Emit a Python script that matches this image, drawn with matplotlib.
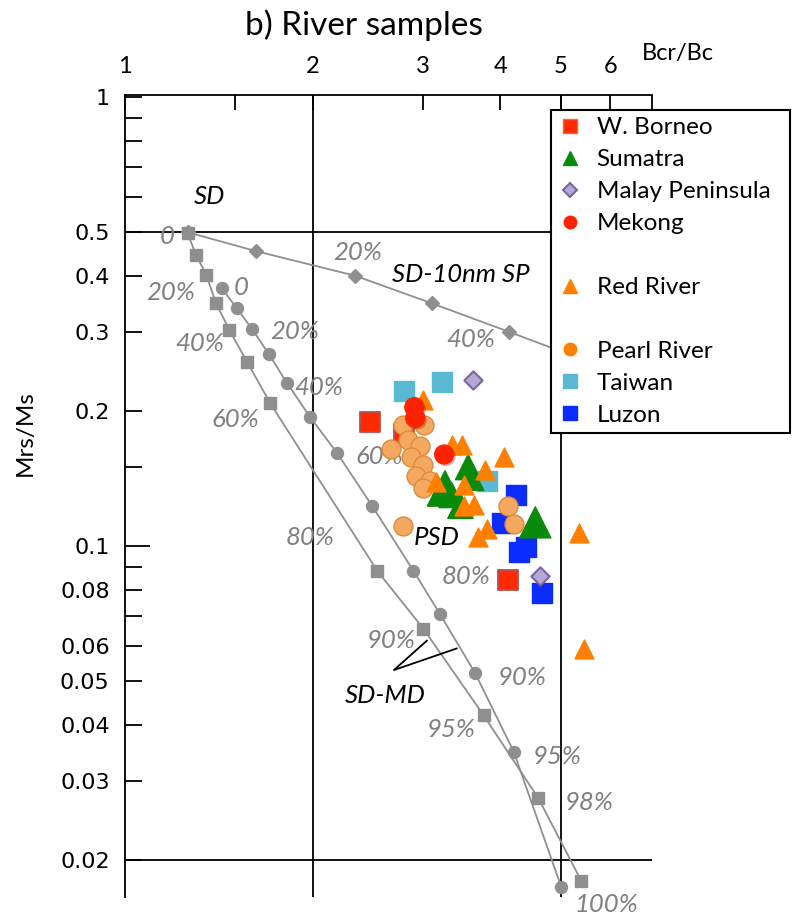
import matplotlib.pyplot as plt
import matplotlib.patheffects as pe
from matplotlib.lines import Line2D
from matplotlib.ticker import NullLocator

plt.rcParams['font.family'] = ['Lato', 'DejaVu Sans']

# Reference mixing curves (Bcr/Bc, Mrs/Ms)
sp_bcr = [1.26, 1.62, 2.34, 3.11, 4.13, 6.0]
sp_mrs = [0.50, 0.454, 0.40, 0.347, 0.300, 0.247]

sq_bcr = [1.26, 1.30, 1.35, 1.40, 1.47, 1.57, 1.71, 2.54, 3.01, 3.76, 4.60, 5.39]
sq_mrs = [0.497, 0.445, 0.402, 0.347, 0.303, 0.257, 0.208, 0.088, 0.0655, 0.042, 0.0275, 0.0180]

ci_bcr = [1.43, 1.51, 1.60, 1.70, 1.82, 1.98, 2.19, 2.49, 2.90, 3.20, 3.64, 4.20, 5.01]
ci_mrs = [0.375, 0.339, 0.304, 0.268, 0.2305, 0.194, 0.161, 0.123, 0.0882, 0.0706, 0.0523, 0.0349, 0.0174]

# River samples
borneo_bcr = [2.47, 2.80, 4.11]
borneo_mrs = [0.189, 0.178, 0.084]

taiwan_bcr = [2.80, 3.22, 3.81]
taiwan_mrs = [0.222, 0.232, 0.140]

luzon_bcr = [4.23, 4.03, 4.39, 4.29, 4.67]
luzon_mrs = [0.130, 0.1125, 0.0997, 0.0972, 0.0785]

sumatra_bcr = [3.26, 3.20, 3.34, 3.55, 3.59, 3.45, 4.55]
sumatra_mrs = [0.138, 0.131, 0.130, 0.150, 0.142, 0.123, 0.113]

malay_bcr = [3.61, 4.63]
malay_mrs = [0.235, 0.086]

pearl_bcr = [2.79, 3.02, 2.84, 2.67, 2.97, 2.88, 3.00, 2.93, 3.08, 3.00, 2.79, 4.11, 4.20]
pearl_mrs = [0.186, 0.186, 0.172, 0.165, 0.167, 0.158, 0.152, 0.143, 0.140, 0.1345, 0.111, 0.123, 0.112]

red_bcr = [3.01, 3.34, 3.47, 4.05, 3.78, 3.15, 3.49, 3.50, 3.63, 3.68, 3.81, 5.34, 5.45]
red_mrs = [0.212, 0.168, 0.168, 0.158, 0.148, 0.139, 0.137, 0.123, 0.1235, 0.105, 0.109, 0.107, 0.059]

mekong_bcr = [2.91, 2.92, 3.25]
mekong_mrs = [0.204, 0.193, 0.160]

# curve annotations
gray_labels = [("0", 1.167, 0.49), ("20%", 1.185, 0.368), ("40%", 1.318, 0.282),
               ("60%", 1.505, 0.191), ("80%", 1.98, 0.1048), ("90%", 2.674, 0.0618),
               ("95%", 3.336, 0.039), ("98%", 5.546, 0.0269), ("100%", 5.904, 0.0159),
               ("0", 1.533, 0.3757), ("20%", 1.871, 0.3013), ("40%", 2.044, 0.225),
               ("60%", 2.559, 0.158), ("80%", 3.525, 0.0854), ("90%", 4.334, 0.0509),
               ("95%", 4.93, 0.0341), ("20%", 2.359, 0.4495), ("40%", 3.591, 0.289)]
black_labels = [("SD", 1.368, 0.602), ("SD-10nm SP", 3.461, 0.4036),
                ("PSD", 3.155, 0.1043), ("SD-MD", 2.616, 0.0466)]

yticks = [1, 0.9, 0.8, 0.7, 0.6, 0.5, 0.4, 0.3, 0.2, 0.15, 0.1, 0.09, 0.08, 0.07,
          0.06, 0.05, 0.04, 0.03, 0.02]
ylabels = ['1', '', '', '', '', '0.5', '0.4', '0.3', '0.2', '', '0.1', '', '0.08', '',
           '0.06', '0.05', '0.04', '0.03', '0.02']
xticks = [1, 1.5, 2, 3, 4, 5, 6, 7]
xlabels = ['1', '', '2', '3', '4', '5', '6', '']

fig = plt.figure(figsize=(7.92, 9.18), dpi=100)
ax = fig.add_axes([125 / 792, 1 - 897 / 918, 527 / 792, 802 / 918])
ax.set_xscale('log')
ax.set_yscale('log')
ax.set_xlim(1, 6.97)
ax.set_ylim(0.01656, 1.0103)

for s in ['bottom', 'right']:
    ax.spines[s].set_visible(False)
for s in ['top', 'left']:
    ax.spines[s].set_linewidth(1.3)

ax.xaxis.tick_top()
ax.set_xticks(xticks)
ax.set_xticklabels(xlabels)
ax.set_yticks(yticks)
ax.set_yticklabels(ylabels)
ax.xaxis.set_minor_locator(NullLocator())
ax.yaxis.set_minor_locator(NullLocator())
ax.tick_params(axis='x', direction='in', length=11, width=1.3, pad=13, labelsize=17)
ax.tick_params(axis='y', direction='in', length=12.5, width=1.3, pad=11, labelsize=16)
for lab in ax.get_yticklabels():
    lab.set_fontfamily('DejaVu Sans')
ax.yaxis.get_major_ticks()[yticks.index(0.1)].tick1line.set_markersize(18)

# boundary lines
ax.axvline(2, color='black', lw=1.3, zorder=1)
ax.axvline(5, color='black', lw=1.3, zorder=1)
ax.axhline(0.5, color='black', lw=1.3, zorder=1)
ax.axhline(0.02, color='black', lw=1.3, zorder=1)

gray = '#8f8f8f'
ax.plot(sp_bcr, sp_mrs, '-D', color=gray, ms=6.8, lw=1.3, zorder=2)
ax.plot(sq_bcr, sq_mrs, '-s', color=gray, ms=8.6, lw=1.3, zorder=2)
ax.plot(ci_bcr, ci_mrs, '-o', color=gray, ms=8.6, lw=1.3, zorder=2)

for txt, x, y in gray_labels:
    ax.text(x, y, txt, color='#808080', fontsize=18.5, style='italic',
            ha='center', va='center', zorder=3)
for txt, x, y in black_labels:
    ax.text(x, y, txt, color='black', fontsize=18.5, style='italic',
            ha='center', va='center', zorder=3)
ax.plot([3.048, 2.699, 3.403], [0.0616, 0.053, 0.0592], color='black', lw=1.3, zorder=3)

# samples
ax.scatter(borneo_bcr, borneo_mrs, marker='s', s=188, c='#ff2a00', edgecolors='#b5504f',
           linewidths=1.3, zorder=4)
ax.scatter(taiwan_bcr, taiwan_mrs, marker='s', s=188, c='#5bb8d2', zorder=5)
ax.scatter(luzon_bcr, luzon_mrs, marker='s', s=188, c='#0a2cff', zorder=5)
ax.scatter(sumatra_bcr, sumatra_mrs, marker='^', s=[330] * 6 + [500], c='#0a8a0a', zorder=6)
ax.scatter(malay_bcr, malay_mrs, marker='D', s=87, c='#b4a7d6', edgecolors='#7e649e',
           linewidths=1.5, zorder=6)
ax.scatter(pearl_bcr, pearl_mrs, marker='o', s=185, c='#f5a860', edgecolors='#de8a3a',
           linewidths=1.0, zorder=7)
ax.scatter(red_bcr, red_mrs, marker='^', s=185, c='#ff8000', zorder=8)
ax.scatter(mekong_bcr, mekong_mrs, marker='o', s=185, c='#ff2200', zorder=9,
           path_effects=[pe.SimplePatchShadow(offset=(1.5, -1.5), alpha=0.3), pe.Normal()])

# legend
blank = Line2D([], [], linestyle='none')
handles = [
    Line2D([], [], marker='s', linestyle='none', ms=9.5, mfc='#ff2a00', mec='#ff6040'),
    Line2D([], [], marker='^', linestyle='none', ms=9.5, mfc='#0a8a0a', mec='#0a8a0a'),
    Line2D([], [], marker='D', linestyle='none', ms=7.5, mfc='#b4a7d6', mec='#7e649e', mew=1.5),
    Line2D([], [], marker='o', linestyle='none', ms=9, mfc='#ff2200', mec='#ff2200'),
    blank,
    Line2D([], [], marker='^', linestyle='none', ms=9.5, mfc='#ff8000', mec='#ff8000'),
    blank,
    Line2D([], [], marker='o', linestyle='none', ms=9, mfc='#ff8000', mec='#ff8000'),
    Line2D([], [], marker='s', linestyle='none', ms=9.5, mfc='#5bb8d2', mec='#5bb8d2'),
    Line2D([], [], marker='s', linestyle='none', ms=9.5, mfc='#0a2cff', mec='#0a2cff'),
]
labels = ['W. Borneo', 'Sumatra', 'Malay Peninsula', 'Mekong', ' ', 'Red River', ' ',
          'Pearl River', 'Taiwan', 'Luzon']
leg = ax.legend(handles, labels, loc='upper left',
                bbox_to_anchor=(551 / 792, 1 - 437 / 918, 239 / 792, 327 / 918),
                bbox_transform=fig.transFigure, mode='expand', borderaxespad=0,
                fontsize=17.5, frameon=True, fancybox=False, framealpha=1,
                borderpad=0.3, labelspacing=0.45, handlelength=1.0, handletextpad=0.58)
leg.get_frame().set_edgecolor('black')
leg.get_frame().set_linewidth(1.5)
leg.set_zorder(20)

fig.text(364 / 792, 1 - 35 / 918, 'b) River samples', fontsize=24, ha='center', va='baseline')
fig.text(642 / 792, 1 - 60 / 918, 'Bcr/Bc', fontsize=17, ha='left', va='baseline')
fig.text(25 / 792, 1 - 433 / 918, 'Mrs/Ms', fontsize=17.5, rotation=90, ha='center', va='center')

fig.savefig('out.png', dpi=100)
